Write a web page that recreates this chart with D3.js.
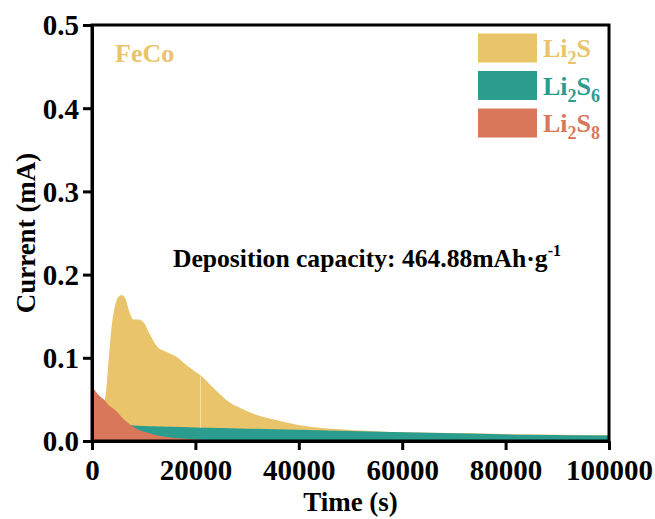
<!DOCTYPE html>
<html>
<head>
<meta charset="utf-8">
<script src="https://cdn.jsdelivr.net/npm/d3@7/dist/d3.min.js"></script>
<style>
  html, body { margin: 0; padding: 0; background: #fff; }
  svg { display: block; font-family: "Liberation Serif", "Times New Roman", serif; font-weight: bold; }
</style>
</head>
<body>
<svg id="chart" width="655" height="519"></svg>
<script>
// Chronoamperometric deposition current for the FeCo host
const li2sTime = [0, 1500, 2400, 2750, 3150, 3800, 4450, 5100, 5750, 6400, 7200, 8000, 9000, 10000, 11200, 12800, 14100, 16400, 18300, 19600, 21000, 22800, 24800, 26700, 28600, 32500, 36400, 40200, 44100, 48000, 51800, 55700, 60000, 70000, 80000, 90000, 100000];
const li2sCurrent = [0.030, 0.040, 0.048, 0.062, 0.092, 0.138, 0.162, 0.173, 0.1755, 0.172, 0.156, 0.146, 0.146, 0.1425, 0.128, 0.112, 0.108, 0.101, 0.091, 0.085, 0.079, 0.068, 0.056, 0.046, 0.040, 0.030, 0.024, 0.019, 0.016, 0.014, 0.0125, 0.0115, 0.0105, 0.0095, 0.0083, 0.0075, 0.0068];

const li2s6Time = [0, 7000, 8000, 15000, 20000, 30000, 40000, 55700, 70000, 85000, 100000];
const li2s6Current = [0.020, 0.0195, 0.0186, 0.017, 0.0162, 0.0148, 0.0135, 0.011, 0.0092, 0.0075, 0.0066];

const li2s8Time = [0, 1160, 2450, 3100, 4100, 5030, 6000, 6960, 8000, 8900, 10800, 12770, 14700, 18300, 22000, 26000];
const li2s8Current = [0.0657, 0.056, 0.049, 0.044, 0.039, 0.034, 0.027, 0.022, 0.017, 0.0138, 0.0098, 0.0066, 0.0046, 0.0026, 0.0012, 0.0003];

// time where the Li2S trace was stitched from two recordings
const stitchTime = [21000];

const xTicks = [0, 20000, 40000, 60000, 80000, 100000];
const yTicks = [0, 0.1, 0.2, 0.3, 0.4, 0.5];

const legendItems = [
  { base: "Li", sub: "2", tail: "S", sub2: "", color: "#E9C46A" },
  { base: "Li", sub: "2", tail: "S", sub2: "6", color: "#2A9D8F" },
  { base: "Li", sub: "2", tail: "S", sub2: "8", color: "#D8775A" }
];
const seriesColors = ["#E9C46A", "#2A9D8F", "#D8775A"];

const svg = d3.select("#chart");
const plot = { left: 92, right: 609, top: 25, bottom: 441 };

const x = d3.scaleLinear().domain([0, 100000]).range([plot.left, plot.right]);
const y = d3.scaleLinear().domain([0, 0.5]).range([plot.bottom, plot.top]);

const zip = (t, v) => t.map((d, i) => ({ t: d, v: v[i] }));
const area = d3.area()
  .x(d => x(d.t))
  .y0(y(0))
  .y1(d => y(d.v))
  .curve(d3.curveMonotoneX);

const series = [zip(li2sTime, li2sCurrent), zip(li2s6Time, li2s6Current), zip(li2s8Time, li2s8Current)];
const g = svg.append("g");
series.forEach((s, i) => {
  g.append("path").datum(s).attr("d", area).attr("fill", seriesColors[i]);
});

// faint seam in the Li2S fill
const interp = (ts, vs, t) => {
  const i = d3.bisectRight(ts, t);
  if (i <= 0) return vs[0];
  if (i >= ts.length) return vs[vs.length - 1];
  const f = (t - ts[i - 1]) / (ts[i] - ts[i - 1]);
  return vs[i - 1] + f * (vs[i] - vs[i - 1]);
};
stitchTime.forEach(t => {
  g.append("line")
    .attr("x1", x(t)).attr("x2", x(t))
    .attr("y1", y(interp(li2sTime, li2sCurrent, t)) + 1)
    .attr("y2", y(interp(li2s6Time, li2s6Current, t)))
    .attr("stroke", "#F3E1A8").attr("stroke-width", 1);
});

// frame
svg.append("rect")
  .attr("x", plot.left).attr("y", plot.top)
  .attr("width", plot.right - plot.left).attr("height", plot.bottom - plot.top)
  .attr("fill", "none").attr("stroke", "#000").attr("stroke-width", 3);

// axes
const xAxis = svg.append("g")
  .attr("transform", `translate(0,${plot.bottom})`)
  .call(d3.axisBottom(x).tickValues(xTicks).tickFormat(d3.format("d")).tickSize(9).tickSizeOuter(0).tickPadding(9));
const yAxis = svg.append("g")
  .attr("transform", `translate(${plot.left},0)`)
  .call(d3.axisLeft(y).tickValues(yTicks).tickFormat(d3.format(".1f")).tickSize(9).tickSizeOuter(0).tickPadding(4));

[xAxis, yAxis].forEach(a => {
  a.select(".domain").attr("stroke", "#000").attr("stroke-width", 3);
  a.selectAll(".tick line").attr("stroke", "#000").attr("stroke-width", 3);
  a.selectAll(".tick text")
    .attr("fill", "#000")
    .style("font-family", '"Liberation Serif", "Times New Roman", serif')
    .style("font-weight", "bold")
    .style("font-size", "29px");
});
yAxis.selectAll(".tick text").attr("dy", "0.34em");

// axis titles
svg.append("text")
  .attr("x", (plot.left + plot.right) / 2).attr("y", 511)
  .attr("text-anchor", "middle").style("font-size", "27px")
  .text("Time (s)");
svg.append("text")
  .attr("transform", `translate(35,${(plot.top + plot.bottom) / 2}) rotate(-90)`)
  .attr("text-anchor", "middle").style("font-size", "27px")
  .text("Current (mA)");

// sample label
svg.append("text")
  .attr("x", 115).attr("y", 62)
  .attr("fill", seriesColors[0]).style("font-size", "26px")
  .text("FeCo");

// capacity annotation
const ann = svg.append("text").attr("x", 173).attr("y", 267).style("font-size", "25.6px");
ann.append("tspan").text("Deposition capacity: 464.88mAh\u00B7g");
ann.append("tspan").attr("dy", -11).style("font-size", "16px").text("-1");

// legend
const leg = svg.append("g");
legendItems.forEach((d, i) => {
  const cy = 48 + i * 37.5;
  leg.append("rect")
    .attr("x", 478).attr("y", cy - 14.5).attr("width", 59).attr("height", 29)
    .attr("fill", d.color);
  const t = leg.append("text").attr("x", 543).attr("y", cy + 9)
    .attr("fill", d.color).style("font-size", "26px");
  t.append("tspan").text(d.base);
  t.append("tspan").attr("dy", 7).style("font-size", "18px").text(d.sub);
  t.append("tspan").attr("dy", -7).text(d.tail);
  if (d.sub2) t.append("tspan").attr("dy", 7).style("font-size", "18px").text(d.sub2);
});
</script>
</body>
</html>
